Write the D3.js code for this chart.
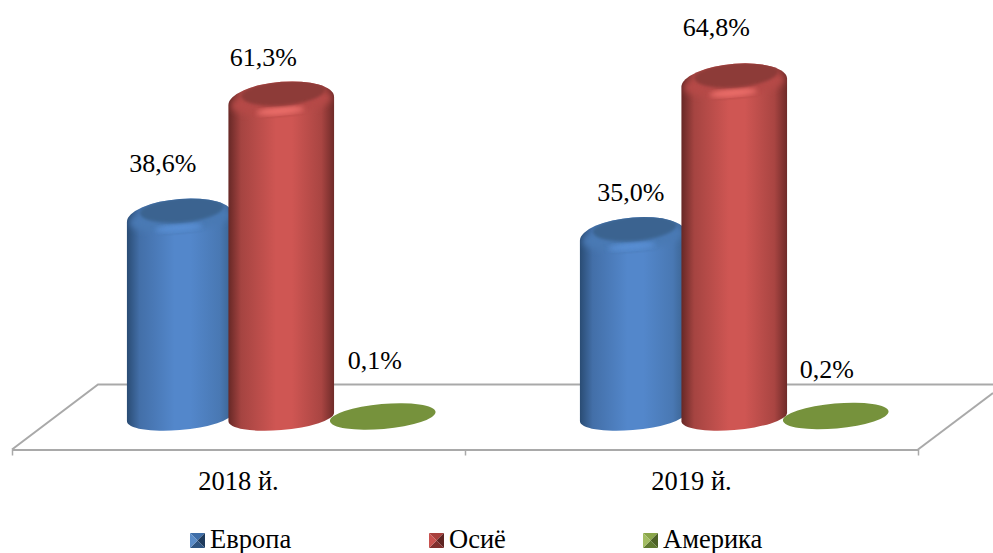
<!DOCTYPE html>
<html lang="ru">
<head>
  <meta charset="UTF-8">
  <title>Европа, Осиё, Америка</title>
  <style>
    html, body { margin: 0; padding: 0; background: #fff; overflow: hidden; }
    svg { display: block; }
    text { font-family: "Liberation Serif", serif; fill: #000; }
  </style>
</head>
<body>
  <svg id="chart" width="993" height="553"></svg>
  <script src="https://d3js.org/d3.v7.min.js"></script>
  <script>
    const years = ["2018 й.", "2019 й."];
    const seriesNames = ["Европа", "Осиё", "Америка"];
    const europe = [38.6, 35.0];
    const asia = [61.3, 64.8];
    const america = [0.1, 0.2];
    const labelsEurope = ["38,6%", "35,0%"];
    const labelsAsia = ["61,3%", "64,8%"];
    const labelsAmerica = ["0,1%", "0,2%"];

    const seriesValues = [europe, asia, america];
    const seriesLabels = [labelsEurope, labelsAsia, labelsAmerica];

    // hand placed labels in the original, [dx, dy] from the top of each cylinder
    const labelNudge = [
      [[-17, -46], [-2, -36]],
      [[-18, -35], [-18, -47]],
      [[-8, -47], [-9, -38]]
    ];

    const colors = [
      { edgeL: "#2a4c74", mid: "#5387cb", edgeR: "#3a628f", top: "#3b6390", rim: "#4a79b4", glow: "#5c93da", leg: ["#5a8cc8", "#3f6ea8", "#1f3a5c", "#2e5481"] },
      { edgeL: "#672826", mid: "#cf5653", edgeR: "#6f2b29", top: "#8d3a38", rim: "#b54a47", glow: "#f57570", leg: ["#c9524f", "#a8403d", "#5e2422", "#7f2f2d"] },
      { edgeL: "#76923c", mid: "#76923c", edgeR: "#76923c", top: "#76923c", rim: "#76923c", glow: "#76923c", leg: ["#a3bd62", "#8aa64a", "#4c6126", "#5f7a30"] }
    ];

    const svg = d3.select("#chart");
    const defs = svg.append("defs");

    defs.append("filter").attr("id", "soft")
      .append("feGaussianBlur").attr("stdDeviation", 1.5);
    defs.append("filter").attr("id", "glow")
      .append("feGaussianBlur").attr("stdDeviation", 2.6);
    defs.append("filter").attr("id", "softer")
      .append("feGaussianBlur").attr("stdDeviation", 3);

    colors.forEach((c, i) => {
      const grad = defs.append("linearGradient").attr("id", "body" + i);
      [[0, c.edgeL], [0.12, d3.interpolateRgb(c.edgeL, c.mid)(0.6)], [0.45, c.mid], [0.6, c.mid], [0.88, d3.interpolateRgb(c.edgeR, c.mid)(0.6)], [1, c.edgeR]]
        .forEach(s => grad.append("stop").attr("offset", s[0]).attr("stop-color", s[1]));
    });

    const floor = { left: 12, right: 918, front: 449.5, back: 384.5, depth: 86 };
    const rx = 53, ryBase = 13, ryFlat = 12.5, ryTop = 19, tilt = -5;

    const x = d3.scaleBand().domain(years).range([floor.left, floor.right]);
    const xSeries = d3.scaleBand().domain(seriesNames).range([-152.5, 152]);
    const y = d3.scaleLinear().domain([0, 70]).range([417, 56]);

    const barX = (yi, si) => x(years[yi]) + x.bandwidth() / 2 + floor.depth / 2 + xSeries(seriesNames[si]) + xSeries.bandwidth() / 2;

    // floor
    const floorLine = "#a9a9a9";
    const floorG = svg.append("g").attr("fill", "none").attr("stroke", floorLine).attr("stroke-width", 2);
    floorG.append("path").attr("d", d3.line()([
      [floor.left, floor.front],
      [floor.left + floor.depth, floor.back],
      [993, floor.back]
    ]));
    floorG.append("path").attr("d", d3.line()([[floor.right, floor.front], [993, 393]]));

    const axisScale = d3.scaleLinear().domain([0, years.length]).range([floor.left, floor.right]);
    const axis = svg.append("g")
      .attr("transform", `translate(0,${floor.front})`)
      .call(d3.axisBottom(axisScale).tickValues(d3.range(years.length + 1)).tickFormat("").tickSize(6).tickSizeOuter(0));
    axis.selectAll("path, line").attr("stroke", floorLine).attr("stroke-width", 2);
    axis.selectAll(".tick line").attr("stroke-width", 1.5);

    // silhouette points of a tilted ellipse, where the tangent is vertical
    function sidePoints(cx, cy, a, b) {
      const th = tilt * Math.PI / 180;
      const t = Math.atan2(-b * Math.sin(th), a * Math.cos(th));
      const dx = a * Math.cos(t) * Math.cos(th) - b * Math.sin(t) * Math.sin(th);
      const dy = a * Math.cos(t) * Math.sin(th) + b * Math.sin(t) * Math.cos(th);
      return { left: [cx - dx, cy - dy], right: [cx + dx, cy + dy] };
    }

    function tiltedEllipse(g, cx, cy, a, b) {
      return g.append("ellipse")
        .attr("cx", 0).attr("cy", 0).attr("rx", a).attr("ry", b)
        .attr("transform", `translate(${cx},${cy}) rotate(${tilt})`);
    }

    function drawCylinder(yi, si) {
      const v = seriesValues[si][yi];
      const cx = barX(yi, si);
      const g = svg.append("g").attr("class", "bar");
      const c = colors[si];

      if (v < 1) {
        tiltedEllipse(g, cx, y(v), rx, ryFlat).attr("fill", c.top);
        return;
      }

      const base = sidePoints(cx, y(0), rx, ryBase);
      const top = sidePoints(cx, y(v), rx, ryTop);
      const clipId = `clip${si}${yi}`;
      const d = `M${top.left} L${base.left} A${rx},${ryBase} ${tilt} 0 0 ${base.right} L${top.right} A${rx},${ryTop} ${tilt} 0 0 ${top.left}Z`;
      const bodyPath = g.append("path").attr("d", d).attr("fill", `url(#body${si})`);

      // bevelled top, kept inside the body outline
      defs.append("clipPath").attr("id", clipId)
        .append("path").attr("d", bodyPath.attr("d"));
      const cap = g.append("g").attr("clip-path", `url(#${clipId})`);
      tiltedEllipse(cap, cx, y(v) + 1, rx * 0.95, 13).attr("fill", c.rim).attr("filter", "url(#softer)");
      tiltedEllipse(cap, cx - 1, y(v) + 10, 24, 4).attr("fill", c.glow).attr("opacity", 0.85).attr("filter", "url(#glow)");
      tiltedEllipse(cap, cx + 2, y(v) - 8, 42, 12.5).attr("fill", c.top).attr("filter", "url(#soft)");
    }

    years.forEach((_, yi) => seriesNames.forEach((_, si) => drawCylinder(yi, si)));

    // value labels
    years.forEach((_, yi) => seriesNames.forEach((_, si) => {
      const n = labelNudge[si][yi];
      svg.append("text")
        .attr("x", barX(yi, si) + n[0])
        .attr("y", y(seriesValues[si][yi]) + n[1])
        .attr("text-anchor", "middle")
        .attr("font-size", 26)
        .text(seriesLabels[si][yi]);
    }));

    // category labels
    svg.selectAll(".cat").data(years).enter().append("text")
      .attr("class", "cat")
      .attr("x", d => x(d) + x.bandwidth() / 2)
      .attr("y", 490)
      .attr("text-anchor", "middle")
      .attr("font-size", 26.5)
      .text(d => d);

    // legend
    const legendX = d3.scaleOrdinal().domain(seriesNames).range([190, 429, 643]);
    const sw = 15, legendTop = 533;
    seriesNames.forEach((name, i) => {
      const lx = legendX(name);
      const g = svg.append("g").attr("transform", `translate(${lx},${legendTop})`);
      const mid = [sw / 2, sw / 2];
      const leg = colors[i].leg;
      [
        [[0, 0], [sw, 0], mid, leg[1]],
        [[sw, 0], [sw, sw], mid, leg[2]],
        [[sw, sw], [0, sw], mid, leg[3]],
        [[0, sw], [0, 0], mid, leg[0]]
      ].forEach(tri => {
        g.append("path").attr("d", d3.line()(tri.slice(0, 3)) + "Z").attr("fill", tri[3]);
      });
      svg.append("text")
        .attr("x", lx + sw + 5)
        .attr("y", 548)
        .attr("font-size", 26.5)
        .text(name);
    });
  </script>
</body>
</html>
